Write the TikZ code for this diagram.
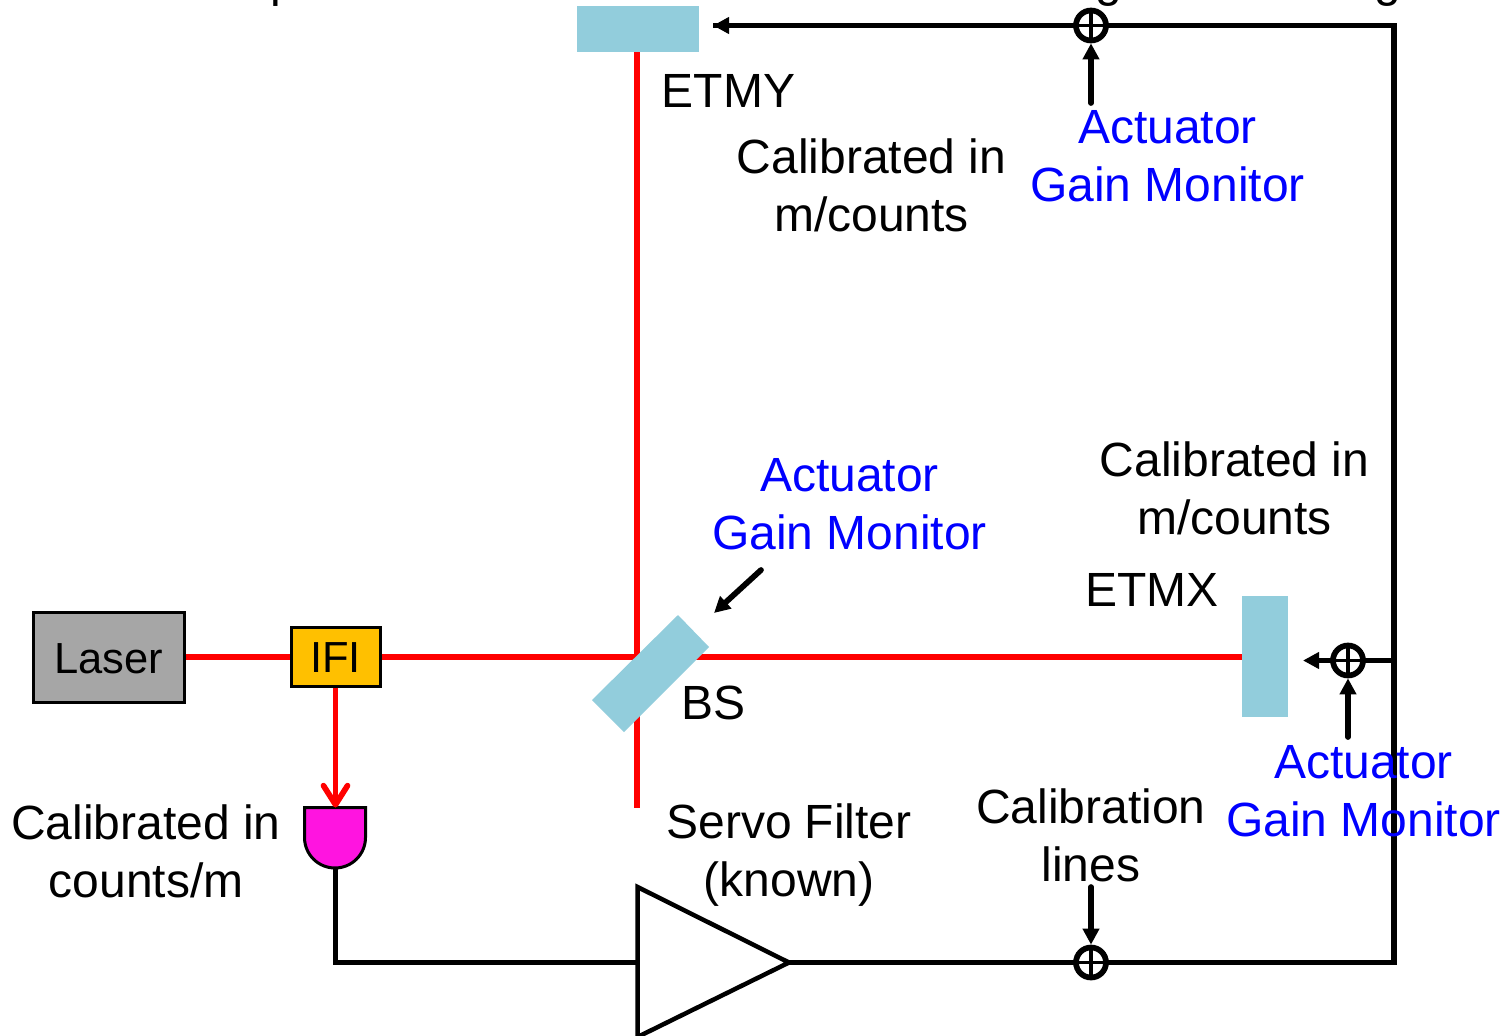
\documentclass[tikz,border=0pt]{standalone}
\usepackage{fontspec}
\setmainfont{Liberation Sans}
\usetikzlibrary{arrows.meta,calc}
\definecolor{optblue}{HTML}{92CDDC}
\definecolor{graybox}{HTML}{A6A6A6}
\definecolor{amber}{HTML}{FFC000}
\definecolor{magentadet}{HTML}{FF14E0}
\tikzset{
  lbl/.style={font=\fontsize{48}{58}\selectfont,align=center,inner sep=0pt,anchor=center},
  blbl/.style={lbl,text=blue},
  wire/.style={line width=5.7pt,black},
  beam/.style={line width=5.7pt,red},
  arr/.style={wire,-{Triangle[length=16pt,width=16pt]}},
  optic/.style={fill=optblue,draw=none,inner sep=0pt},
  srcbox/.style={draw=black,line width=3pt,inner sep=0pt,font=\fontsize{43.5}{50}\selectfont,text height=32pt,text depth=0pt},
  summer/.style={circle,draw=black,line width=5.7pt,fill=white,minimum size=30pt,inner sep=0pt,
    path picture={\draw[line width=3.5pt] (path picture bounding box.north)--(path picture bounding box.south)
      (path picture bounding box.west)--(path picture bounding box.east);}},
}
\begin{document}
\begin{tikzpicture}[x=1pt,y=-1pt]
\useasboundingbox (0,0) rectangle (1505,1036);
\clip (0,0) rectangle (1505,1036);
% heading fragments, cut by the top edge
\node[lbl,anchor=base] (hp) at (284,-3) {p};
\node[lbl,anchor=base] (hg1) at (1108.5,-3) {g};
\node[lbl,anchor=base] (hg2) at (1387.5,-3) {g};
% named points
\coordinate (ytop) at (637,52);
\coordinate (ybot) at (637,808);
\coordinate (detl) at (304.5,807.5);
\coordinate (detr) at (365.5,807.5);
\coordinate (dett) at (335.5,807.5);
\coordinate (detb) at (335.5,868);
\coordinate (ta) at (637.5,887);
\coordinate (tb) at (637.5,1037);
\coordinate (tc) at (789,962.5);
\coordinate (corner) at (1394,962.5);
\coordinate (topcorner) at (1394,25.5);
\coordinate (kink) at (335.5,962.5);
\coordinate (tin) at (637,962.5);
\coordinate (ytip) at (713,25.5);
\coordinate (xtip) at (1303,660.5);
\coordinate (xjoin) at (1394,660.5);
\coordinate (a1) at (1091,103);
\coordinate (a2) at (1348,737);
\coordinate (a3) at (1091,887);
\coordinate (a4) at (761,570);
\coordinate (a4t) at (714,613);
% optics and boxes
\node[srcbox,fill=graybox,minimum width=151pt,minimum height=90pt] (laser) at (108.5,657) {Laser};
\node[srcbox,fill=amber,minimum width=89pt,minimum height=59pt] (ifi) at (335.5,656.5) {IFI};
\node[optic,minimum width=46pt,minimum height=121pt] (etmx) at (1265,656.5) {};
\node[optic,minimum width=122pt,minimum height=46pt] (etmy) at (638,29) {};
\draw[beam] (laser.east) -- (ifi.west |- laser.east);
\draw[beam] (ifi.east |- laser.east) -- (etmx.west |- laser.east);
\draw[beam] (ytop) -- (ybot);
\fill[optblue] (678,615) -- (709,647) -- (624,732) -- (592,700) -- cycle;
% detector
\draw[line width=3pt,fill=magentadet] (detl) -- (detr) -- (365.5,837.5) arc[start angle=0,end angle=-180,radius=30.5pt] -- cycle;
\draw[beam,-{Straight Barb[length=19pt,width=24pt,round,line width=5.7pt]}] (ifi.south) -- (dett);
% loop
\draw[wire,line join=miter] (detb) -- (kink) -- (tin);
\draw[line width=4.5pt,line join=miter] (ta) -- (tc) -- (tb) -- cycle;
\draw[wire,line join=miter] (tc) -- (corner) -- (topcorner) -- (ytip);
\draw[arr] (topcorner) -- (ytip);
\draw[arr] (xjoin) -- (xtip);
\node[summer] (s1) at (1091,25.5) {};
\node[summer] (s2) at (1348,660.5) {};
\node[summer] (s3) at (1091,962.5) {};
\draw[arr,line cap=round] (a1) -- (s1);
\draw[arr,line cap=round] (a2) -- (s2);
\draw[arr,line cap=round] (a3) -- (s3);
\draw[arr,line cap=round] (a4) -- (a4t);
% labels
\node[lbl] (etmyl) at (728.5,91) {ETMY};
\node[lbl] (cal1) at (871.5,185) {Calibrated in\\m/counts};
\node[blbl] (agm1) at (1167.5,156) {Actuator\\Gain Monitor};
\node[blbl] (agm2) at (849.5,504) {Actuator\\Gain Monitor};
\node[lbl] (cal2) at (1234.5,488) {Calibrated in\\m/counts};
\node[lbl] (etmxl) at (1152,590) {ETMX};
\node[lbl] (bsl2) at (713.5,703) {BS};
\node[blbl] (agm3) at (1363.5,791) {Actuator\\Gain Monitor};
\node[lbl] (cal3) at (146,851) {Calibrated in\\counts/m};
\node[lbl] (servo) at (789,855) {Servo Filter\\(known)};
\node[lbl] (call) at (1091,835) {Calibration\\lines};
\end{tikzpicture}
\end{document}
